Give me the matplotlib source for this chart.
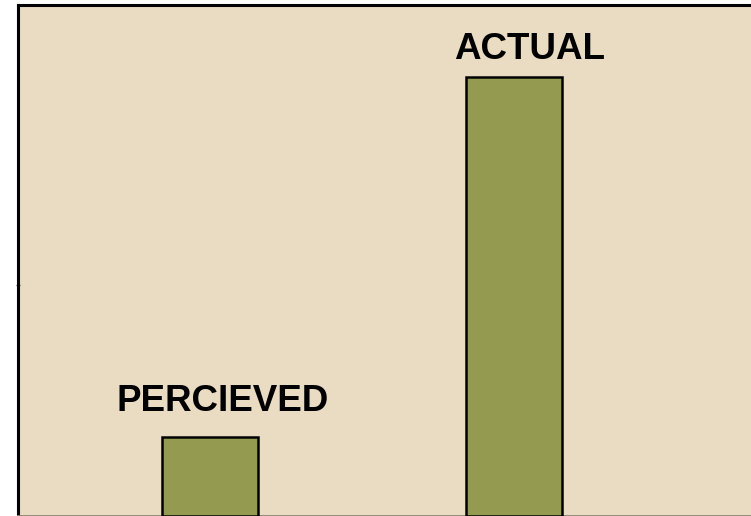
import numpy as np
import matplotlib.pyplot as plt

labels = ["PERCIEVED", "ACTUAL"]
values = [17, 95]
yticks = [50]

fig = plt.figure(figsize=(7.51, 5.16), dpi=100)
ax = fig.add_axes([18 / 751, 0.0, 1 - 18 / 751, 1 - 4.5 / 516])
ax.set_facecolor('#E9DCC2')

X = np.arange(len(values))
bars = ax.bar(X, values, width=0.316, color='#949B51', edgecolor='black', linewidth=1.8, zorder=3)

# label offsets (points) above each bar
offsets = [(9, 13), (11, 7)]
for rect, lab, off in zip(bars, labels, offsets):
    ax.annotate(lab, (rect.get_x() + rect.get_width() / 2, rect.get_height()),
                xytext=off, textcoords='offset points', ha='center', va='bottom',
                fontsize=26.5, fontweight='bold', family='Liberation Sans')

ax.set_xlim(-0.632, 1.78)
ax.set_ylim(0, 110.7)
ax.set_xticks([])
ax.set_yticks(yticks)
ax.set_yticklabels([])
ax.tick_params(axis='y', direction='inout', length=3, width=1, color='#555555')

ax.spines['right'].set_visible(False)
ax.spines['left'].set_linewidth(2.2)
ax.spines['top'].set_linewidth(2.2)
ax.spines['bottom'].set_color('#8a8270')
ax.spines['bottom'].set_linewidth(2)

fig.savefig('out.png', dpi=100)
